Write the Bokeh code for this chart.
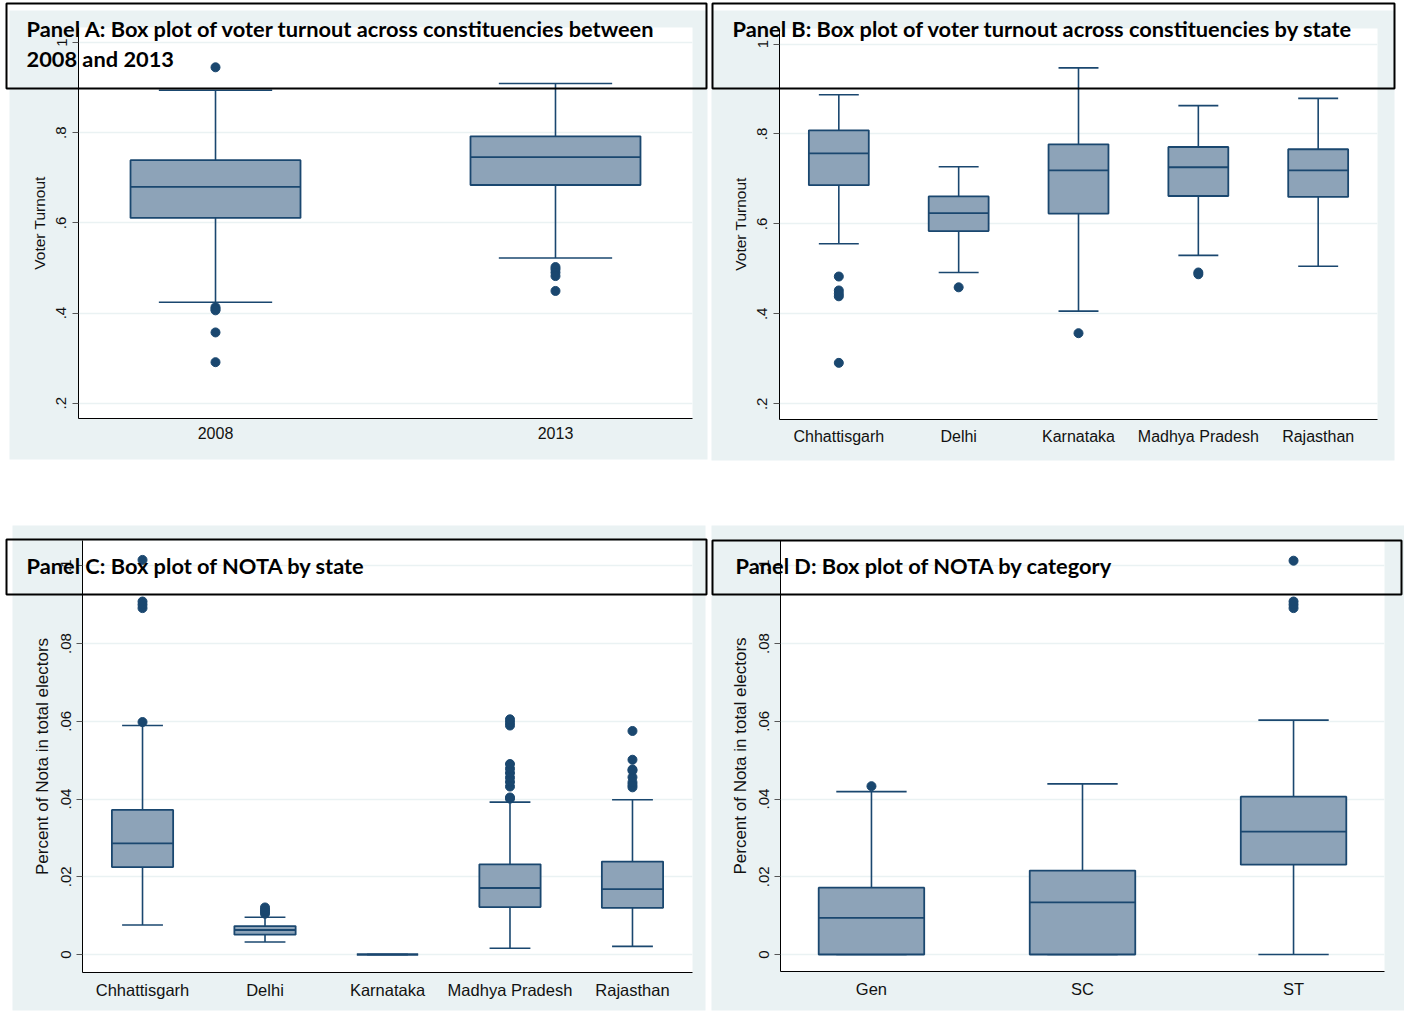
from bokeh.plotting import figure
from bokeh.models import Range1d, FixedTicker, GridBox
from bokeh.embed import file_html
from bokeh.resources import INLINE
from bokeh.core.properties import value

# ---------------- data ----------------
years = ["2008", "2013"]
a_lower = [0.424, 0.522]
a_q1 = [0.611, 0.684]
a_med = [0.680, 0.746]
a_q3 = [0.739, 0.792]
a_upper = [0.894, 0.909]
a_out_grp = [0, 0, 0, 0, 0, 0, 1, 1, 1, 1, 1]
a_out_val = [0.945, 0.413, 0.409, 0.406, 0.357, 0.291, 0.502, 0.497, 0.490, 0.482, 0.449]

states = ["Chhattisgarh", "Delhi", "Karnataka", "Madhya Pradesh", "Rajasthan"]
b_lower = [0.556, 0.492, 0.406, 0.530, 0.506]
b_q1 = [0.686, 0.584, 0.623, 0.662, 0.660]
b_med = [0.757, 0.624, 0.719, 0.726, 0.719]
b_q3 = [0.808, 0.661, 0.777, 0.771, 0.766]
b_upper = [0.887, 0.727, 0.947, 0.863, 0.879]
b_out_grp = [0, 0, 0, 0, 0, 1, 2, 3, 3]
b_out_val = [0.483, 0.452, 0.445, 0.439, 0.291, 0.459, 0.357, 0.492, 0.488]

c_lower = [0.0076, 0.0032, 0.0, 0.0016, 0.0021]
c_q1 = [0.0225, 0.0051, 0.0, 0.0122, 0.0120]
c_med = [0.0286, 0.0063, 0.0, 0.0171, 0.0168]
c_q3 = [0.0372, 0.0073, 0.0, 0.0232, 0.0239]
c_upper = [0.0589, 0.0096, 0.0, 0.0392, 0.0398]
c_out_grp = [0, 0, 0, 0, 0,
             1, 1, 1, 1,
             3, 3, 3, 3, 3, 3, 3, 3, 3, 3, 3,
             4, 4, 4, 4, 4, 4, 4, 4]
c_out_val = [0.0598, 0.0891, 0.0900, 0.0908, 0.1015,
             0.0105, 0.0110, 0.0115, 0.0121,
             0.0401, 0.0404, 0.0432, 0.0444, 0.0455, 0.0467, 0.0478, 0.0490, 0.0589, 0.0597, 0.0605,
             0.0430, 0.0436, 0.0443, 0.0456, 0.0473, 0.0476, 0.0501, 0.0575]

categories = ["Gen", "SC", "ST"]
d_lower = [0.0, 0.0, 0.0]
d_q1 = [0.0, 0.0, 0.0231]
d_med = [0.0094, 0.0134, 0.0316]
d_q3 = [0.0172, 0.0216, 0.0406]
d_upper = [0.0419, 0.0439, 0.0603]
d_out_grp = [0, 2, 2, 2, 2]
d_out_val = [0.0433, 0.0891, 0.0900, 0.0908, 0.1013]

turnout_ticks = [0.2, 0.4, 0.6, 0.8, 1.0]
turnout_labels = [".2", ".4", ".6", ".8", "1"]
nota_ticks = [0.0, 0.02, 0.04, 0.06, 0.08, 0.1]
nota_labels = ["0", ".02", ".04", ".06", ".08", ".1"]

title_texts = ["Panel A: Box plot of voter turnout across constituencies between",
               "2008 and 2013",
               "Panel B: Box plot of voter turnout across constituencies by state",
               "Panel C: Box plot of NOTA by state",
               "Panel D: Box plot of NOTA by category"]

# ---------------- style / layout ----------------
NAVY = "#1a476f"
FILL = "#8da3b8"
BG = "#eaf2f3"
TICK_FONT = "Liberation Sans"
TITLE_FONT = "Lato"
PAGE_W, PAGE_H = 1404, 1011

# page-pixel layout of the decorations (graph regions, title boxes, title text)
BG_L = [9, 711, 12, 711]
BG_R = [707, 1394, 705, 1404]
BG_T = [10, 10, 525, 525]
BG_B = [459, 460, 1010, 1010]
TB_L = [6, 712, 6, 712]
TB_R = [706, 1394, 706, 1401]
TB_T = [3, 3, 539, 540]
TB_B = [88, 88, 594, 594]
TT_X = [26, 26, 732, 26, 735]
TT_Y = [28, 58, 28, 565, 565]


def panel(W, H, frame, cats, lower, q1, med, q3, upper,
          out_grp, out_val, yticks, ylabels, ylabel, xr, yr,
          ytick_size, ylab_size, xlab_size):
    fl, fr, ft, fb = frame
    p = figure(width=W, height=H, output_backend="svg", toolbar_location=None,
               x_range=Range1d(*xr), y_range=Range1d(*yr),
               min_border_left=fl, min_border_right=W - fr,
               min_border_top=ft, min_border_bottom=H - fb,
               border_fill_color=None, background_fill_color="white",
               outline_line_color=None, frame_align=False)

    xs = list(range(len(cats)))
    half = 0.25
    cap = 1.0 / 6.0
    # whiskers
    p.segment(x0=xs, x1=xs, y0=q3, y1=upper, line_color=NAVY, line_width=1.6)
    p.segment(x0=xs, x1=xs, y0=q1, y1=lower, line_color=NAVY, line_width=1.6)
    p.segment(x0=[x - cap for x in xs], x1=[x + cap for x in xs], y0=upper, y1=upper,
              line_color=NAVY, line_width=1.6)
    p.segment(x0=[x - cap for x in xs], x1=[x + cap for x in xs], y0=lower, y1=lower,
              line_color=NAVY, line_width=1.6)
    # boxes
    p.vbar(x=xs, width=2 * half, bottom=q1, top=q3, fill_color=FILL,
           line_color=NAVY, line_width=1.8)
    p.segment(x0=[x - half for x in xs], x1=[x + half for x in xs], y0=med, y1=med,
              line_color=NAVY, line_width=1.8)
    # outliers
    p.scatter(x=out_grp, y=out_val, size=9, color=NAVY, marker="circle")

    p.xgrid.visible = False
    p.ygrid.ticker = FixedTicker(ticks=yticks)
    p.ygrid.grid_line_color = BG
    p.ygrid.grid_line_width = 1.5

    ya = p.yaxis[0]
    ya.ticker = FixedTicker(ticks=yticks)
    ya.major_label_overrides = {t: s for t, s in zip(yticks, ylabels)}
    ya.major_label_orientation = "vertical"
    ya.major_tick_out = 6
    ya.major_tick_in = 0
    ya.minor_tick_line_color = None
    ya.axis_line_color = "black"
    ya.major_tick_line_color = "#555555"
    ya.major_label_text_font = TICK_FONT
    ya.major_label_text_font_size = ytick_size
    ya.major_label_text_color = "#111111"
    ya.major_label_standoff = 6
    ya.axis_label = ylabel
    ya.axis_label_text_font = TICK_FONT
    ya.axis_label_text_font_style = "normal"
    ya.axis_label_text_font_size = ylab_size
    ya.axis_label_text_color = "#111111"
    ya.axis_label_standoff = 6

    xa = p.xaxis[0]
    xa.ticker = FixedTicker(ticks=xs)
    xa.major_label_overrides = {i: c for i, c in zip(xs, cats)}
    xa.major_tick_line_color = None
    xa.minor_tick_line_color = None
    xa.axis_line_color = "black"
    xa.major_label_text_font = TICK_FONT
    xa.major_label_text_font_size = xlab_size
    xa.major_label_text_color = "#111111"
    xa.major_label_standoff = 2
    return p


def page_fig():
    f = figure(width=PAGE_W, height=PAGE_H, output_backend="svg", toolbar_location=None,
               x_range=Range1d(0, PAGE_W), y_range=Range1d(PAGE_H, 0),
               x_axis_type=None, y_axis_type=None, min_border=0,
               border_fill_color=None, background_fill_color=None,
               outline_line_color=None, frame_align=False)
    f.grid.visible = False
    return f


W1, W2, H1, H2 = 709, 695, 492, 519


def v_a(y):
    return 1 - (y - 42) / 450.9


def v_b(y):
    return 1 - (y - 43.5) / 449.75


def v_n(y):
    return (954 - y) / 3887.5


pA = panel(W1, H1, (78, 692, 27, 418),
           years, a_lower, a_q1, a_med, a_q3, a_upper, a_out_grp, a_out_val,
           turnout_ticks, turnout_labels, "Voter Turnout",
           (-0.403, 1.403), (v_a(418), v_a(27)), "15px", "15.5px", "16px")

pB = panel(W2, H1, (70, 668, 28, 419),
           states, b_lower, b_q1, b_med, b_q3, b_upper, b_out_grp, b_out_val,
           turnout_ticks, turnout_labels, "Voter Turnout",
           (-0.495, 4.495), (v_b(419), v_b(28)), "15px", "15.5px", "16px")

pC = panel(W1, H2, (82, 692, 48, 480),
           states, c_lower, c_q1, c_med, c_q3, c_upper, c_out_grp, c_out_val,
           nota_ticks, nota_labels, "Percent of Nota in total electors",
           (-0.49, 4.49), (v_n(972), v_n(540)), "15px", "17px", "16.5px")

pD = panel(W2, H2, (71, 675, 48, 479),
           categories, d_lower, d_q1, d_med, d_q3, d_upper, d_out_grp, d_out_val,
           nota_ticks, nota_labels, "Percent of Nota in total electors",
           (-0.431, 2.431), (v_n(971), v_n(540)), "15px", "17px", "16.5px")

# background layer: light graph regions
back = page_fig()
back.quad(left=BG_L, right=BG_R, top=BG_T, bottom=BG_B, fill_color=BG, line_color=None)

# overlay layer: framed panel titles
front = page_fig()
front.quad(left=TB_L, right=TB_R, top=TB_T, bottom=TB_B, fill_color=None,
           line_color="black", line_width=2)
front.text(x=TT_X, y=TT_Y, text=title_texts, text_font=value(TITLE_FONT),
           text_font_style="bold", text_font_size="21.8px", text_color="black",
           text_baseline="alphabetic", text_align="left")

layout = GridBox(children=[(back, 0, 0, 2, 2), (pA, 0, 0), (pB, 0, 1),
                           (pC, 1, 0), (pD, 1, 1), (front, 0, 0, 2, 2)],
                 spacing=0)

open("out.html", "w").write(file_html(layout, INLINE))
